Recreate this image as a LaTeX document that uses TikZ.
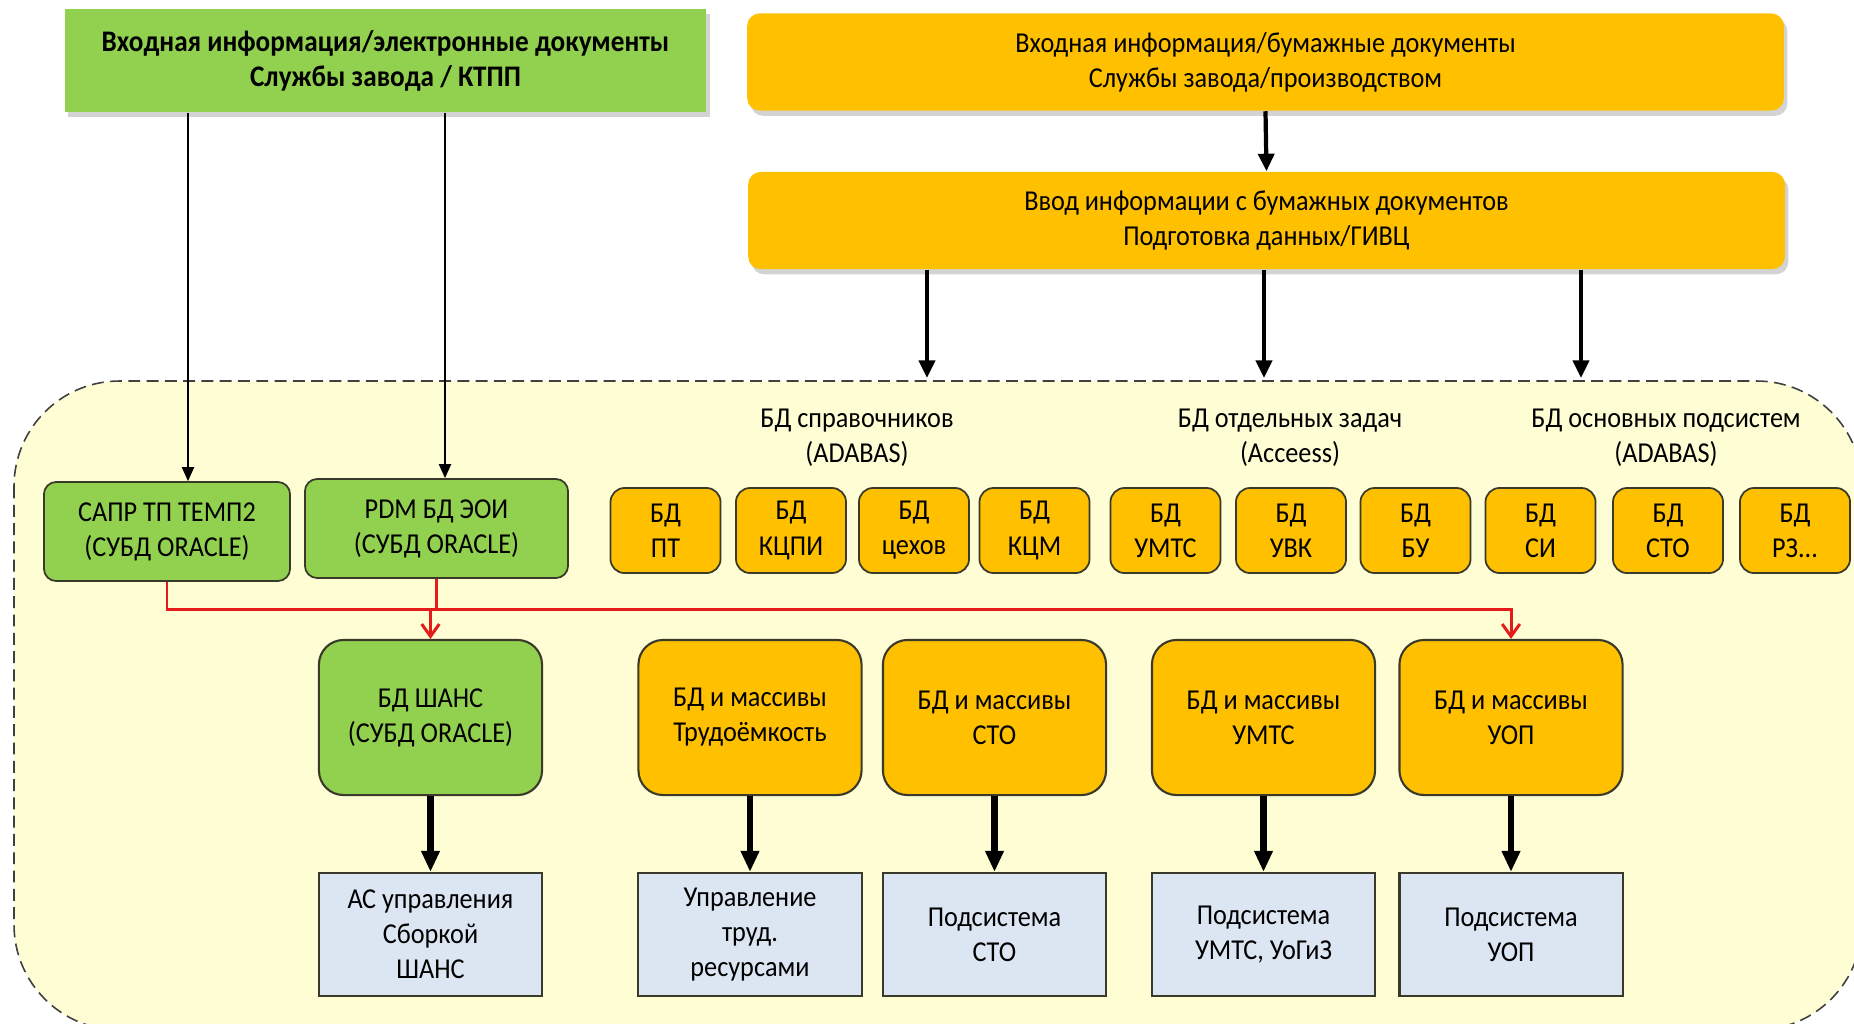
\documentclass[tikz,border=0pt]{standalone}
\usepackage{fontspec}
\setmainfont{Carlito}[FakeStretch=0.91]
\usetikzlibrary{arrows.meta,shadows}
\definecolor{gr}{HTML}{92D050}
\definecolor{og}{HTML}{FFC000}
\definecolor{lb}{HTML}{DCE6F2}
\definecolor{yl}{HTML}{FEFDD3}
\definecolor{edge}{HTML}{3A3A2A}
\definecolor{rd}{HTML}{E31B1B}
\begin{document}
\begin{tikzpicture}[x=0.01cm,y=-0.01cm,
  txt/.style={align=center,text=black,inner sep=0pt,font=\fontsize{8.2}{10}\selectfont},
  shad/.style={drop shadow={opacity=0.35,shadow xshift=1pt,shadow yshift=-1.5pt}},
  topg/.style={txt,fill=gr,shad,font=\bfseries\fontsize{8.5}{10}\selectfont,minimum width=6.41cm,minimum height=1.03cm},
  topo/.style={txt,fill=og,shad,rounded corners=3.5pt,minimum width=10.36cm,minimum height=0.97cm},
  gbox/.style={txt,fill=gr,draw=edge,line width=0.5pt,rounded corners=3.5pt,minimum height=0.99cm},
  sbox/.style={txt,fill=og,draw=edge,line width=0.5pt,rounded corners=4pt,minimum width=1.1cm,minimum height=0.85cm},
  mbox/.style={txt,draw=edge,line width=0.6pt,rounded corners=7pt,minimum width=2.23cm,minimum height=1.55cm},
  bbox/.style={txt,fill=lb,draw=edge,line width=0.6pt,minimum width=2.23cm,minimum height=1.23cm},
  glabel/.style={txt},
  thinarr/.style={-{Triangle[length=4pt,width=3.5pt]},line width=0.4pt},
  medarr/.style={-{Triangle[length=5pt,width=4.5pt]},line width=1.2pt},
  thickarr/.style={-{Triangle[length=6pt,width=5pt]},line width=1.8pt},
  redarr/.style={draw=rd,line width=0.85pt,-{Straight Barb[length=3.5pt,width=5pt]}},
  region/.style={draw=black!75,fill=yl,line width=0.45pt,dash pattern=on 3.4pt off 1.8pt,rounded corners=30pt}
]
\useasboundingbox (0,0) rectangle (1854,1023);
\begin{scope}
  \clip (0,0) rectangle (1854,1023);
  \path[region] (14,381) rectangle (1862,1030);
\end{scope}

% top boxes
\node[topg] (gtop) at (385.5,60.5) {Входная информация/электронные документы\\Службы завода / КТПП};
\node[topo] (otop1) at (1265.5,62) {Входная информация/бумажные документы\\Службы завода/производством};
\node[topo] (otop2) at (1266.5,220.5) {Ввод информации с бумажных документов\\Подготовка данных/ГИВЦ};

% green db boxes
\node[gbox,minimum width=2.46cm] (sapr) at (167,531.5) {САПР ТП ТЕМП2\\(СУБД ORACLE)};
\node[gbox,minimum width=2.63cm] (pdm) at (436.5,528.5) {PDM БД ЭОИ\\(СУБД ORACLE)};

% group labels
\node[glabel] (l1) at (857,438) {БД справочников\\(ADABAS)};
\node[glabel] (l2) at (1290,438) {БД отдельных задач\\(Acceess)};
\node[glabel] (l3) at (1666,438) {БД основных подсистем\\(ADABAS)};

% small boxes
\node[sbox] (s1) at (665.5,530.5) {БД\\ПТ};
\node[sbox] (s2) at (791,530.5) {БД\\КЦПИ};
\node[sbox] (s3) at (914,530.5) {БД\\цехов};
\node[sbox] (s4) at (1034.5,530.5) {БД\\КЦМ};
\node[sbox] (s5) at (1165.5,530.5) {БД\\УМТС};
\node[sbox] (s6) at (1291,530.5) {БД\\УВК};
\node[sbox] (s7) at (1415.5,530.5) {БД\\БУ};
\node[sbox] (s8) at (1540.5,530.5) {БД\\СИ};
\node[sbox] (s9) at (1668,530.5) {БД\\СТО};
\node[sbox] (s10) at (1795,530.5) {БД\\РЗ...};

% middle boxes
\node[mbox,fill=gr] (shans) at (430.5,717.5) {БД ШАНС\\(СУБД ORACLE)};
\node[mbox,fill=og] (trud) at (750,717.5) {БД и массивы\\Трудоёмкость};
\node[mbox,fill=og] (sto) at (994.5,717.5) {БД и массивы\\СТО};
\node[mbox,fill=og] (umts) at (1263.5,717.5) {БД и массивы\\УМТС};
\node[mbox,fill=og] (uop) at (1511,717.5) {БД и массивы\\УОП};

% bottom boxes
\node[bbox] (b1) at (430.5,934.5) {АС управления\\Сборкой\\ШАНС};
\node[bbox] (b2) at (750,934.5) {Управление\\труд.\\ресурсами};
\node[bbox] (b3) at (994.5,934.5) {Подсистема\\СТО};
\node[bbox] (b4) at (1263.5,934.5) {Подсистема\\УМТС, УоГиЗ};
\node[bbox] (b5) at (1511,934.5) {Подсистема\\УОП};

% connectors from green top
\coordinate (a1) at (188,0);
\coordinate (a2) at (445,0);
\draw[thinarr] (gtop.south -| a1) -- (sapr.north -| a1);
\draw[thinarr] (gtop.south -| a2) -- (pdm.north -| a2);

% orange connectors
\draw[medarr] (otop1.south) -- (otop2.north);
\coordinate (e1) at (927,378);
\coordinate (e2) at (1264,378);
\coordinate (e3) at (1581,378);
\draw[medarr] (otop2.south -| e1) -- (e1);
\draw[medarr] (otop2.south -| e2) -- (e2);
\draw[medarr] (otop2.south -| e3) -- (e3);

% red connectors
\coordinate (rr) at (0,609);
\draw[redarr] (sapr.south) |- (rr -| uop.north) -- (uop.north);
\draw[redarr] (pdm.south) -- (pdm.south |- rr) -| (shans.north);

% thick arrows
\draw[thickarr] (shans.south) -- (b1.north);
\draw[thickarr] (trud.south) -- (b2.north);
\draw[thickarr] (sto.south) -- (b3.north);
\draw[thickarr] (umts.south) -- (b4.north);
\draw[thickarr] (uop.south) -- (b5.north);
\end{tikzpicture}
\end{document}
